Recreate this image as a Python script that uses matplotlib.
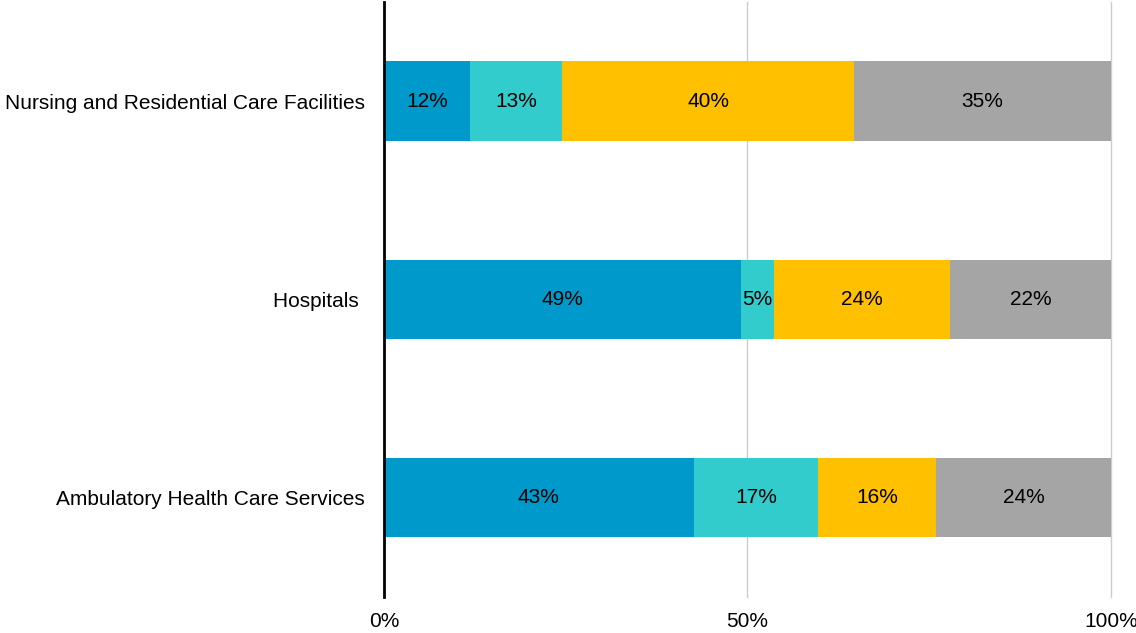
import numpy as np
import matplotlib.pyplot as plt

plt.rcParams['font.family'] = ['Liberation Sans', 'DejaVu Sans']

# Categories, top to bottom
categories = ['Nursing and Residential Care Facilities', 'Hospitals ', 'Ambulatory Health Care Services']

# Shares of each segment (percent)
seg1 = [11.8, 49.1, 42.6]
seg2 = [12.7, 4.6, 17.1]
seg3 = [40.2, 24.2, 16.2]
seg4 = [35.3, 22.1, 24.1]

colors = ['#0099CC', '#33CCCC', '#FFC000', '#A5A5A5']

fig, ax = plt.subplots(figsize=(11.36, 6.33), dpi=100)
fig.subplots_adjust(left=0.338, right=0.978, top=0.997, bottom=0.057)

y = np.arange(len(categories))
left = np.zeros(len(categories))
for vals, c in zip([seg1, seg2, seg3, seg4], colors):
    vals = np.array(vals)
    ax.barh(y, vals, left=left, height=0.4, color=c, zorder=3)
    # percentage labels in the middle of each segment
    for yi, l, v in zip(y, left, vals):
        ax.text(l + v / 2, yi, f'{v:.0f}%', ha='center', va='center',
                fontsize=15, color='black', zorder=4)
    left += vals

ax.set_xlim(0, 100)
ax.set_ylim(2.5, -0.5)
ax.set_yticks(y)
ax.set_yticklabels(categories, fontsize=15)
ax.set_xticks([0, 50, 100])
ax.set_xticklabels(['0%', '50%', '100%'], fontsize=15)

# grid lines only (no frame except the left axis)
ax.xaxis.grid(True, color='#CCCCCC', linewidth=1, zorder=0)
for line in ax.get_xgridlines():
    line.set_clip_on(False)
for s in ['top', 'right', 'bottom']:
    ax.spines[s].set_visible(False)
ax.spines['left'].set_linewidth(2)
ax.spines['left'].set_color('black')
ax.spines['left'].set_zorder(5)
ax.tick_params(axis='both', length=0)
ax.tick_params(axis='y', pad=14)
ax.tick_params(axis='x', pad=11)

plt.savefig('out.png')
